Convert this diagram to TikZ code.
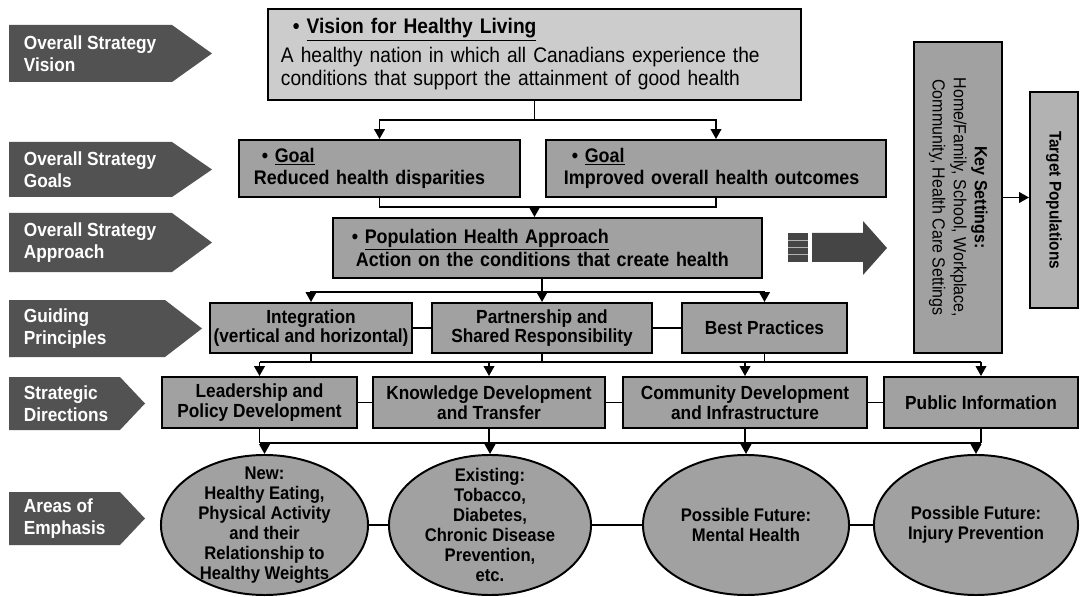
\documentclass[tikz,border=0pt]{standalone}
\usepackage{fontspec}
\setmainfont{Liberation Sans}[FakeStretch=0.91]
\usetikzlibrary{arrows.meta,shapes.geometric}

\definecolor{labgray}{gray}{0.32}
\definecolor{visgray}{gray}{0.80}
\definecolor{boxgray}{gray}{0.63}
\definecolor{tgtgray}{gray}{0.70}

\tikzset{
    tag/.style={text=white, font=\fontsize{13.5}{16}\selectfont\bfseries, align=left, anchor=west, inner sep=0pt},
    panel/.style={draw, line width=1.4pt, fill=boxgray, inner sep=0pt, align=center, font=\fontsize{13.5}{14}\selectfont\bfseries},
    blob/.style={ellipse, draw, line width=1.4pt, fill=boxgray, inner sep=0pt, minimum height=3.5cm},
    blobtext/.style={inner sep=0pt, align=center, font=\fontsize{13}{14.2}\selectfont\bfseries},
}

\begin{document}
\begin{tikzpicture}[x=0.025cm, y=-0.025cm, line width=1.2pt, >={Triangle[length=7pt,width=7.5pt]}]
\useasboundingbox (0,0) rectangle (1086,597);

% Row labels on the left
\foreach \nm/\ytop/\ybot/\xend/\xtip/\txt in {
    tagvis/25/82/172/212/{Overall Strategy\\Vision},
    taggoal/142/197/172/212/{Overall Strategy\\Goals},
    tagappr/213/272/172/212/{Overall Strategy\\Approach},
    tagguide/300/357/165/202/{Guiding\\Principles},
    tagstrat/377/430/120/145/{Strategic\\Directions},
    tagarea/492/545/120/145/{Areas of\\Emphasis}} {
    \fill[labgray] (9,\ytop) -- (\xend,\ytop) -- (\xtip,{(\ytop+\ybot)/2}) -- (\xend,\ybot) -- (9,\ybot) -- cycle;
    \node[tag] (\nm) at (23,{(\ytop+\ybot)/2}) {\txt};
}

% Vision, goals, approach
\node[panel, fill=visgray, align=left, font=\fontsize{15}{17}\selectfont, text width=12.675cm, inner xsep=0.325cm, minimum height=2.275cm] (vision) at (534.5,54.5)
    {\hspace*{0.3cm}\textbf{• \underline{Vision for Healthy Living}}\\[3pt]
     A healthy nation in which all Canadians experience the\\
     conditions that support the attainment of good health};
\node[panel, align=left, font=\fontsize{14}{16}\selectfont\bfseries, text width=6.275cm, inner xsep=0.375cm, minimum height=1.425cm] (goalA) at (379.5,168.5)
    {\hspace*{0.2cm}• \underline{Goal}\\Reduced health disparities};
\node[panel, align=left, font=\fontsize{14}{16}\selectfont\bfseries, text width=7.6cm, inner xsep=0.45cm, minimum height=1.425cm] (goalB) at (716,168.5)
    {\hspace*{0.2cm}• \underline{Goal}\\Improved overall health outcomes};
\node[panel, align=left, font=\fontsize{14}{16.5}\selectfont\bfseries, text width=9.575cm, inner xsep=0.575cm, minimum height=1.5cm] (approach) at (547.5,248)
    {\hspace*{-0.1cm}• \underline{Population Health Approach}\\Action on the conditions that create health};

% Guiding principles
\node[panel, minimum width=5.05cm, minimum height=1.25cm] (integ) at (311,328) {Integration\\(vertical and horizontal)};
\node[panel, minimum width=5.5cm, minimum height=1.25cm] (partner) at (542,328) {Partnership and\\Shared Responsibility};
\node[panel, minimum width=4.125cm, minimum height=1.25cm] (best) at (764.5,328) {Best Practices};

% Strategic directions
\node[panel, minimum width=4.875cm, minimum height=1.275cm] (lead) at (259.5,402.5) {Leadership and\\Policy Development};
\node[panel, minimum width=5.8cm, minimum height=1.275cm] (know) at (489,402.5) {Knowledge Development\\and Transfer};
\node[panel, minimum width=6.1cm, minimum height=1.275cm] (comm) at (745,402.5) {Community Development\\and Infrastructure};
\node[panel, minimum width=4.85cm, minimum height=1.275cm] (pub) at (981,402.5) {Public Information};

% Areas of emphasis
\node[blob, minimum width=5.175cm] (ellA) at (264.5,525) {};
\node[blob, minimum width=5.05cm] (ellB) at (490,525) {};
\node[blob, minimum width=5.15cm] (ellC) at (746,525) {};
\node[blob, minimum width=5.1cm] (ellD) at (976,525) {};
\node[blobtext] (ellAtext) at (ellA) {New:\\Healthy Eating,\\Physical Activity\\and their\\Relationship to\\Healthy Weights};
\node[blobtext] (ellBtext) at (ellB) {Existing:\\Tobacco,\\Diabetes,\\Chronic Disease\\Prevention,\\etc.};
\node[blobtext] (ellCtext) at (ellC) {Possible Future:\\Mental Health};
\node[blobtext] (ellDtext) at (ellD) {Possible Future:\\Injury Prevention};

% Settings and populations
\node[panel, minimum width=2.2cm, minimum height=7.775cm, font=\fontsize{12.5}{15}\selectfont] (keyset) at (958,197.5)
    {\rotatebox{-90}{\begin{tabular}{@{}c@{}}\textbf{Key Settings:}\\Home/Family, School, Workplace,\\Community, Health Care Settings\end{tabular}}};
\node[panel, fill=tgtgray, minimum width=1.2cm, minimum height=5.4cm, font=\fontsize{12}{14}\selectfont\bfseries] (target) at (1054,200)
    {\rotatebox{-90}{Target Populations}};

% Big arrow towards the settings
\fill[labgray!85!black] (812,233) -- (863,233) -- (863,221) -- (887,248) -- (863,275) -- (863,262) -- (812,262) -- cycle;
\fill[labgray!85!black] (788,233) rectangle (808,262);
\foreach \yy in {240,247,254} {
    \draw[gray!60, line width=0.6pt] (788,\yy) -- (808,\yy);
}

% Vision to goals
\coordinate (vsplit) at (vision.south |- 0,120);
\draw (vision.south) -- (vsplit);
\draw[->] (vsplit) -| (goalA.north);
\draw[->] (vsplit) -| (goalB.north);

% Goals to approach
\coordinate (gjoin) at (vision.south |- 0,207);
\draw (goalA.south) |- (gjoin) -| (goalB.south);
\draw[->] (gjoin) -- (gjoin |- approach.north);

% Approach to principles
\coordinate (asplit) at (partner.north |- 0,292);
\draw (approach.south -| asplit) -- (asplit);
\draw[->] (asplit) -- (partner.north);
\draw[->] (asplit) -| (integ.north);
\draw[->] (asplit) -| (best.north);
\draw (integ.east) -- (partner.west);
\draw (partner.east) -- (best.west);

% Principles to directions
\coordinate (gbus) at (partner.south |- 0,362);
\draw (integ.south) -- (integ.south |- gbus);
\draw (partner.south) -- (gbus);
\draw (best.south) -- (best.south |- gbus);
\draw (lead.north |- gbus) -- (pub.north |- gbus);
\foreach \s in {lead,know,comm,pub} {
    \draw[->] (\s.north |- gbus) -- (\s.north);
}
\draw (lead.east) -- (know.west);
\draw (know.east) -- (comm.west);
\draw (comm.east) -- (pub.west);

% Directions to areas
\coordinate (sbus) at (lead.south |- 0,443);
\foreach \s in {lead,know,comm,pub} {
    \draw (\s.south) -- (\s.south |- sbus);
}
\draw (sbus) -- (pub.south |- sbus);
\foreach \e in {ellA,ellB,ellC,ellD} {
    \draw[->] (\e.north |- sbus) -- (\e.north);
}
\draw (ellA) -- (ellB);
\draw (ellB) -- (ellC);
\draw (ellC) -- (ellD);

% Settings to populations
\draw[->] (keyset.east) -- (keyset.east -| target.west);

\end{tikzpicture}
\end{document}
